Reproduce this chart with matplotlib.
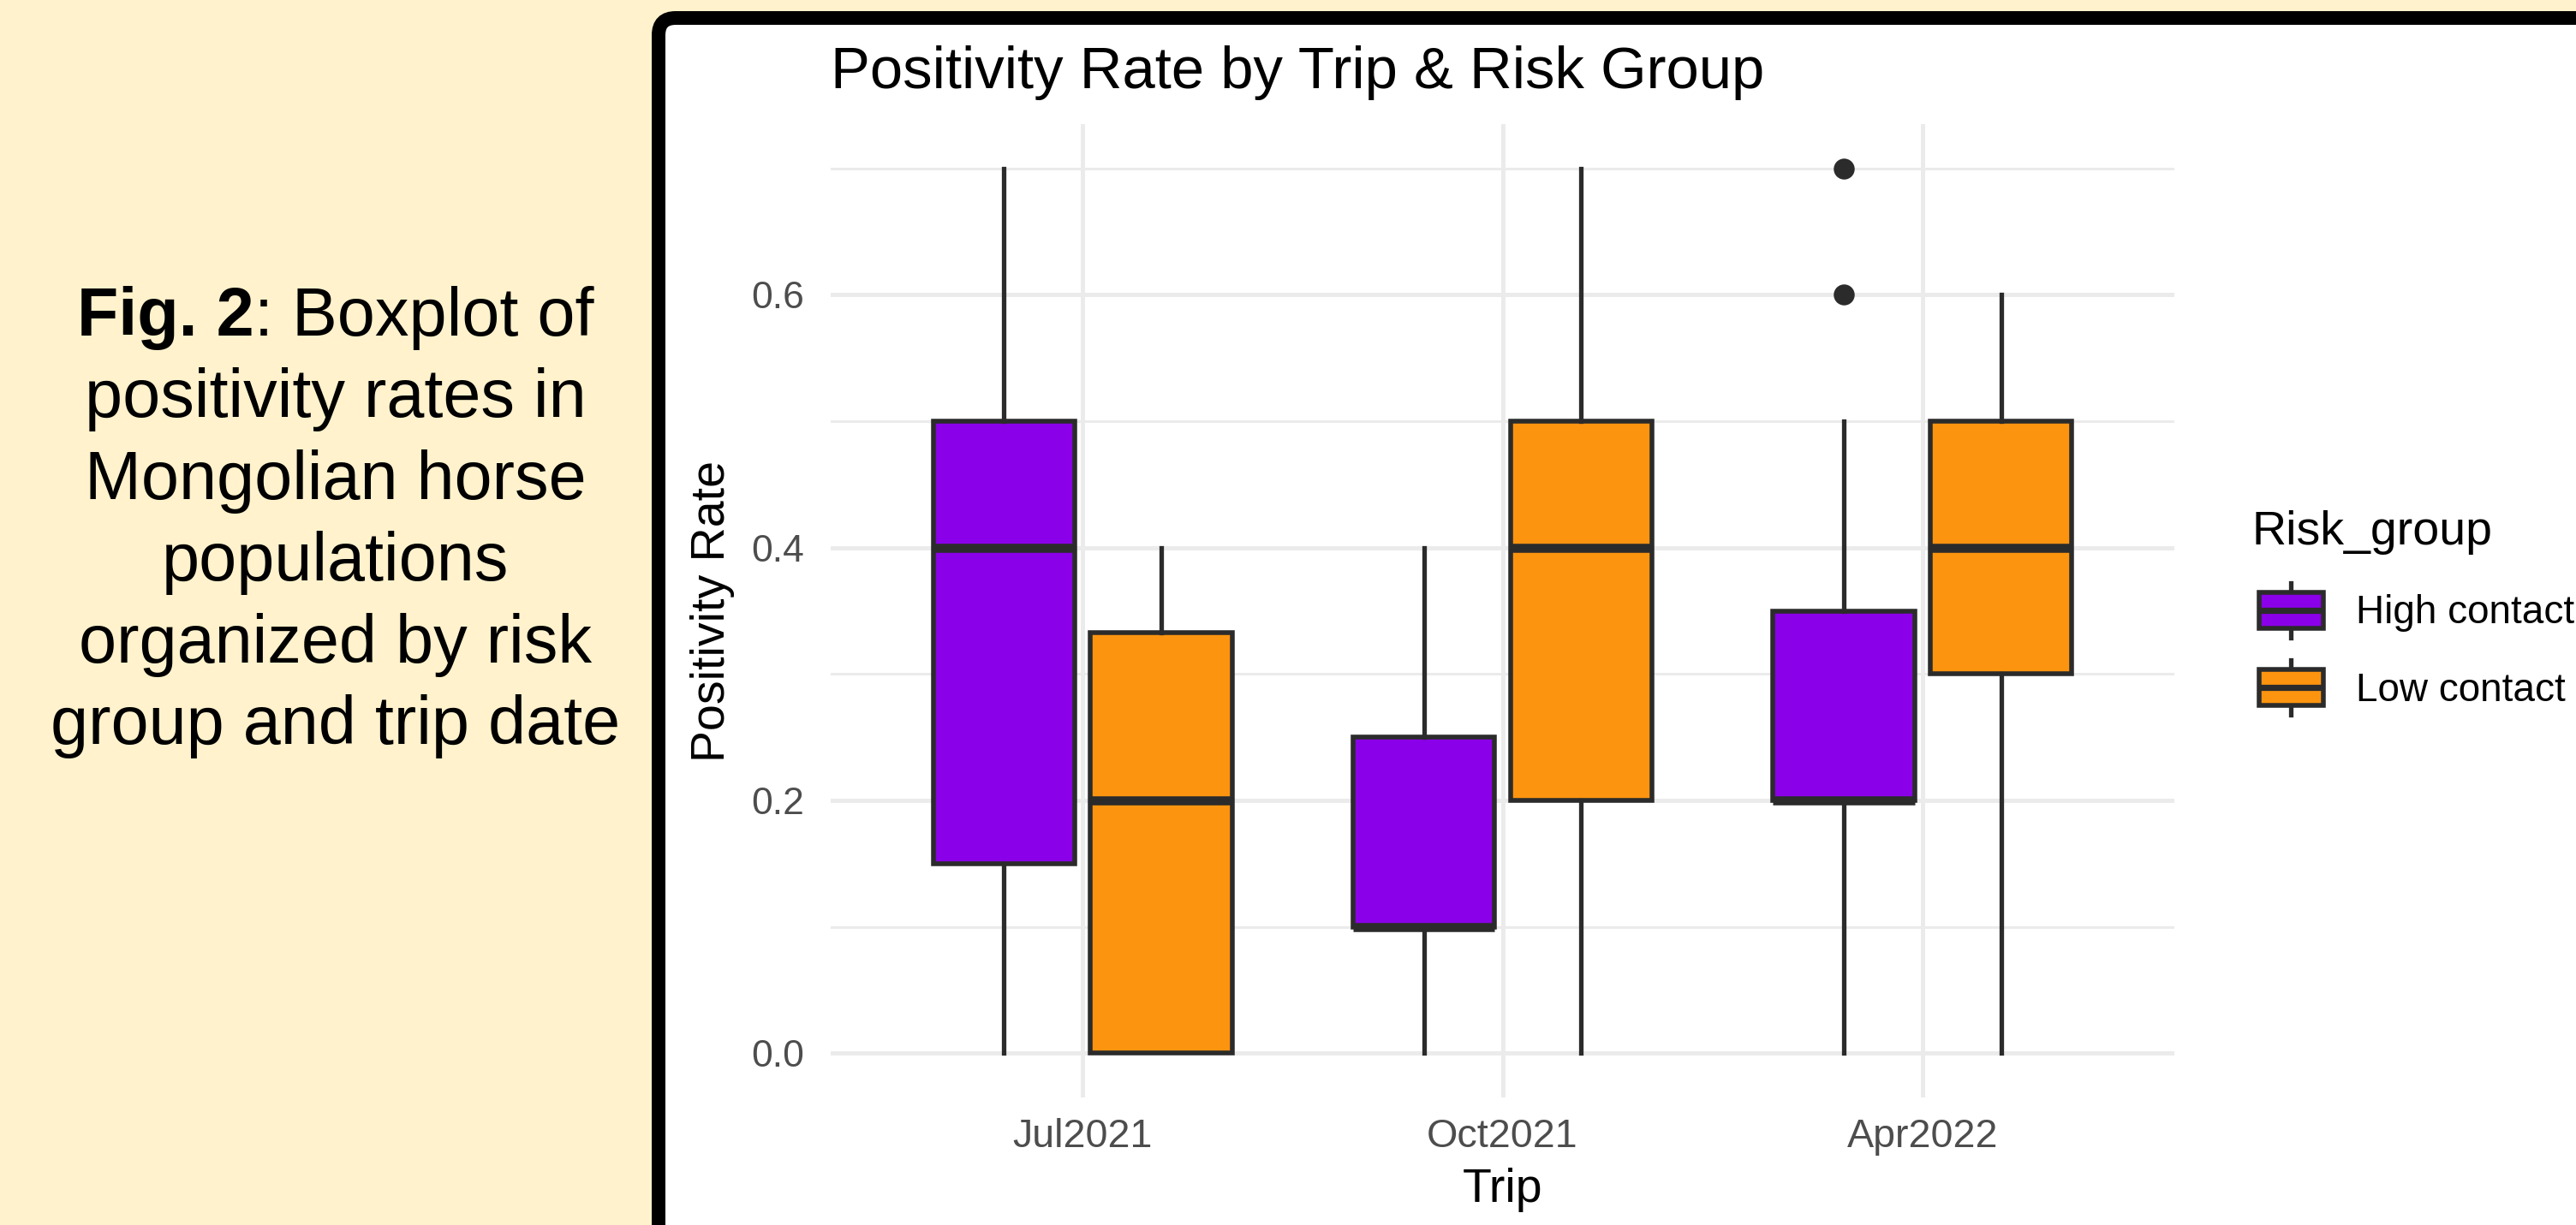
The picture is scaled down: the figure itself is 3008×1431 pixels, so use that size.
import matplotlib
matplotlib.use("Agg")
import matplotlib.pyplot as plt
from matplotlib.patches import FancyBboxPatch, Rectangle, Patch
from matplotlib.lines import Line2D
from matplotlib.legend_handler import HandlerBase

plt.rcParams["font.family"] = ["Liberation Sans", "DejaVu Sans"]

# data
trips = ["Jul2021", "Oct2021", "Apr2022"]
groups = ["High contact", "Low contact"]
colors = ["#8A00E8", "#FD940F"]

high_lo = [0.0, 0.0, 0.0]
high_q1 = [0.15, 0.10, 0.20]
high_med = [0.40, 0.10, 0.20]
high_q3 = [0.50, 0.25, 0.35]
high_hi = [0.70, 0.40, 0.50]
high_out = [[], [], [0.6, 0.7]]

low_lo = [0.0, 0.0, 0.0]
low_q1 = [0.0, 0.20, 0.30]
low_med = [0.20, 0.40, 0.40]
low_q3 = [0.333, 0.50, 0.50]
low_hi = [0.40, 0.70, 0.60]
low_out = [[], [], []]

caption_bold = "Fig. 2"
caption = [": Boxplot of", "positivity rates in", "Mongolian horse",
           "populations", "organized by risk", "group and trip date"]

EDGE = "#2B2B2B"
W, H, DPI = 3008, 1431, 200

fig = plt.figure(figsize=(W / DPI, H / DPI), dpi=DPI)
fig.patch.set_facecolor("#FFF2CC")

# black rounded frame around the chart
frame = FancyBboxPatch((769 / DPI, -0.5), (W - 769 + 100) / DPI, (H - 21) / DPI + 0.5,
                       boxstyle="round,pad=0,rounding_size=0.1",
                       transform=fig.dpi_scale_trans, facecolor="white",
                       edgecolor="black", lw=5.76, zorder=0)
fig.patches.append(frame)

# caption on the left
cx = 392
for i, line in enumerate(caption[1:], start=1):
    fig.text(cx / W, 1 - (392 + i * 95.5) / H, line, ha="center", va="baseline",
             fontsize=28.5, color="black")

# first line: bold part + regular part, centred together
renderer = fig.canvas.get_renderer()
t_bold = fig.text(0, 1 - 392 / H, caption_bold, ha="left", va="baseline",
                  fontsize=28.5, fontweight="bold", color="black")
t_rest = fig.text(0, 1 - 392 / H, caption[0], ha="left", va="baseline",
                  fontsize=28.5, color="black")
wb = t_bold.get_window_extent(renderer).width
wr = t_rest.get_window_extent(renderer).width
x0 = cx - (wb + wr) / 2
t_bold.set_x(x0 / W)
t_rest.set_x((x0 + wb) / W)

ax = fig.add_axes([970 / W, 149 / H, 1569 / W, 1137 / H])
ax.set_zorder(1)
ax.set_facecolor("white")


def stats(lo, q1, med, q3, hi, out):
    return [dict(whislo=lo[i], q1=q1[i], med=med[i], q3=q3[i], whishi=hi[i], fliers=out[i])
            for i in range(len(trips))]


series = [stats(high_lo, high_q1, high_med, high_q3, high_hi, high_out),
          stats(low_lo, low_q1, low_med, low_q3, low_hi, low_out)]
offsets = [-0.1875, 0.1875]

for st, off, col in zip(series, offsets, colors):
    ax.bxp(st, positions=[i + off for i in range(len(trips))], widths=0.3375,
           patch_artist=True, showcaps=False, manage_ticks=False,
           boxprops=dict(facecolor=col, edgecolor=EDGE, lw=2.0),
           medianprops=dict(color=EDGE, lw=3.8, solid_capstyle="butt"),
           whiskerprops=dict(color=EDGE, lw=1.9),
           flierprops=dict(marker="o", markerfacecolor=EDGE, markeredgecolor="none",
                           markersize=8.8))

ax.set_xlim(-0.6, len(trips) - 0.4)
ax.set_ylim(-0.035, 0.735)
ax.set_xticks(range(len(trips)))
ax.set_xticklabels(trips)
ax.set_yticks([0.0, 0.2, 0.4, 0.6])
ax.set_yticklabels(["0.0", "0.2", "0.4", "0.6"])
ax.set_yticks([0.1, 0.3, 0.5, 0.7], minor=True)
ax.set_axisbelow(True)
ax.grid(True, which="major", color="#EBEBEB", lw=1.8)
ax.grid(True, which="minor", axis="y", color="#EBEBEB", lw=1.1)
for s in ax.spines.values():
    s.set_visible(False)
ax.tick_params(axis="both", which="both", length=0, labelsize=16, labelcolor="#4D4D4D")
ax.tick_params(axis="x", labelsize=16.8, pad=8.5)
ax.tick_params(axis="y", pad=11)

ax.set_xlabel("Trip", fontsize=20)
ax.xaxis.set_label_coords(0.5, -0.072)
ax.set_ylabel("Positivity Rate", fontsize=20)
ax.yaxis.set_label_coords(-0.0714, 0.5)

fig.text(970 / W, 1 - 103 / H, "Positivity Rate by Trip & Risk Group",
         ha="left", va="baseline", fontsize=24.8, color="black")


class BoxKey(HandlerBase):
    def create_artists(self, legend, orig_handle, xdescent, ydescent, width, height,
                       fontsize, trans):
        inset = 2.9
        x0 = -xdescent + inset
        bw = width - inset
        y0 = -ydescent
        cx = x0 + bw / 2
        stub = 3.8
        arts = [
            Line2D([cx, cx], [y0 + height, y0 + height + stub], color=EDGE, lw=1.9),
            Line2D([cx, cx], [y0 - stub, y0], color=EDGE, lw=1.9),
            Rectangle((x0, y0), bw, height, facecolor=orig_handle.get_facecolor(),
                      edgecolor=EDGE, lw=2.0),
            Line2D([x0, x0 + bw], [y0 + height / 2] * 2, color=EDGE, lw=2.6,
                   solid_capstyle="butt"),
        ]
        for a in arts:
            a.set_transform(trans)
        return arts


handles = [Patch(facecolor=c) for c in colors]
leg = fig.legend(handles, groups, title="Risk_group", loc="upper left",
                 bbox_to_anchor=(2630 / W, 1 - 596 / H), frameon=False,
                 fontsize=16.5, title_fontsize=20, alignment="left",
                 handler_map={Patch: BoxKey()}, handlelength=1.8, handleheight=1.05,
                 labelspacing=0.95, handletextpad=0.85, borderpad=0, borderaxespad=0)
leg.set_zorder(2)

fig.savefig("out.png", dpi=DPI, facecolor=fig.get_facecolor())
